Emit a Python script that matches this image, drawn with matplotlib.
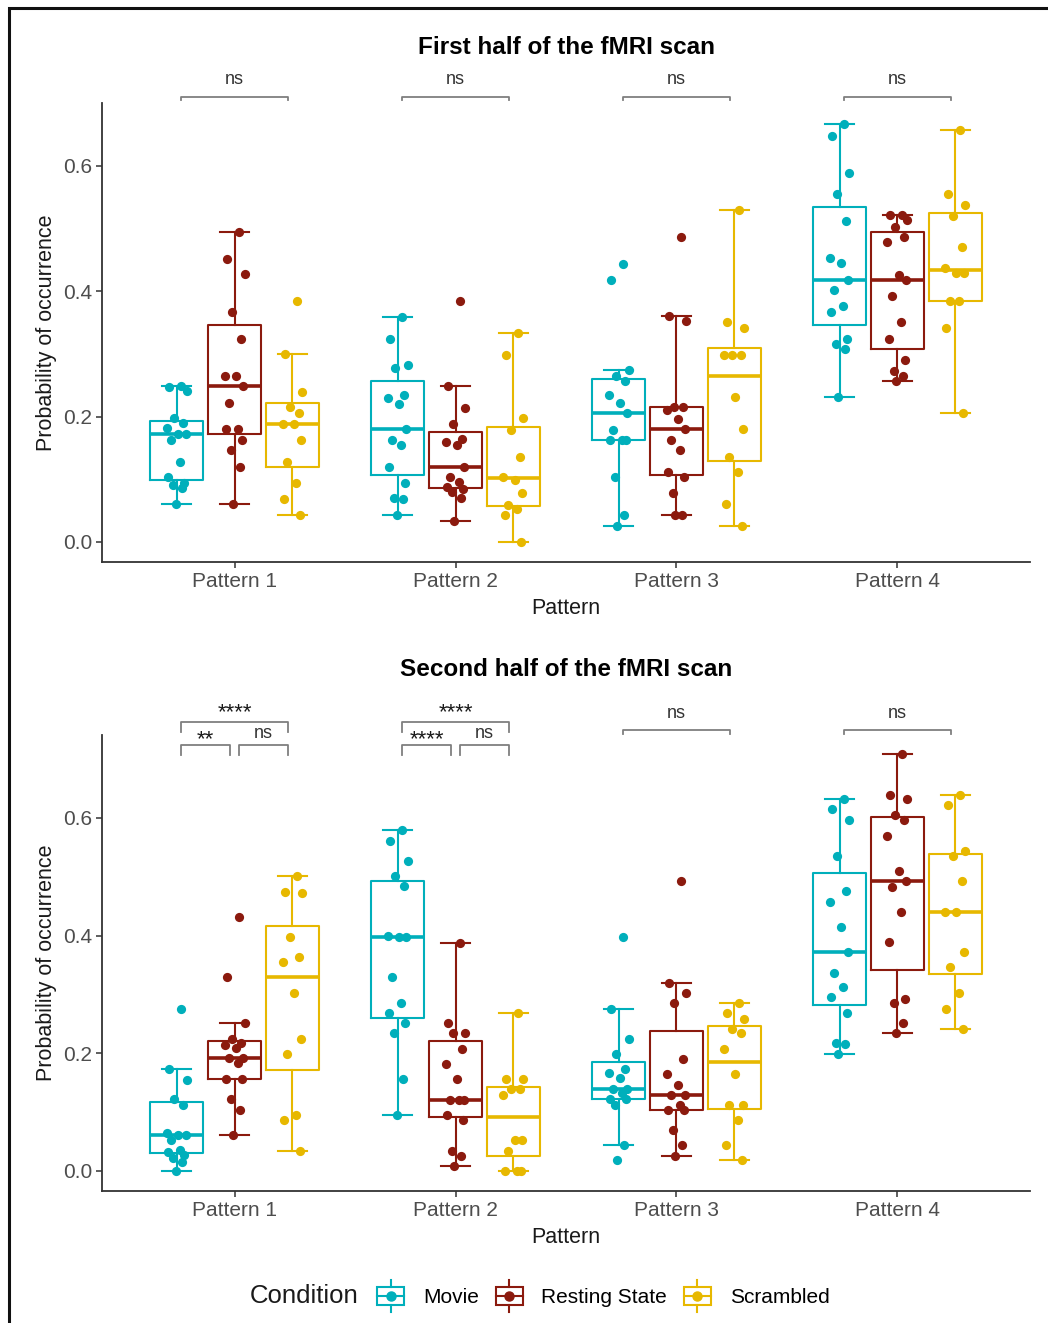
import numpy as np
import matplotlib
matplotlib.use('Agg')
from matplotlib import pyplot as plt
from matplotlib.patches import Rectangle
from matplotlib.lines import Line2D
from matplotlib.legend_handler import HandlerBase

plt.rcParams['font.family'] = ['Liberation Sans', 'DejaVu Sans']

W, H = 1048, 1323

patterns = ['Pattern 1', 'Pattern 2', 'Pattern 3', 'Pattern 4']
conditions = ['Movie', 'Resting State', 'Scrambled']
colors = ['#00AFBB', '#8B1A0E', '#E7B800']

# probability of occurrence per subject, one list per pattern
first_movie = [
    [0.249, 0.247, 0.241, 0.197, 0.190, 0.181, 0.172, 0.172, 0.163, 0.128, 0.104, 0.094, 0.090, 0.086, 0.060],
    [0.358, 0.324, 0.282, 0.277, 0.235, 0.229, 0.220, 0.180, 0.163, 0.155, 0.120, 0.094, 0.070, 0.068, 0.043],
    [0.444, 0.418, 0.274, 0.265, 0.256, 0.235, 0.222, 0.205, 0.179, 0.163, 0.163, 0.163, 0.103, 0.043, 0.026],
    [0.666, 0.648, 0.589, 0.555, 0.512, 0.453, 0.445, 0.418, 0.401, 0.376, 0.367, 0.324, 0.315, 0.307, 0.231],
]
first_rest = [
    [0.495, 0.451, 0.427, 0.367, 0.324, 0.265, 0.265, 0.248, 0.222, 0.180, 0.180, 0.163, 0.146, 0.120, 0.060],
    [0.384, 0.248, 0.213, 0.188, 0.164, 0.160, 0.155, 0.120, 0.104, 0.095, 0.088, 0.085, 0.080, 0.070, 0.034],
    [0.487, 0.360, 0.352, 0.215, 0.215, 0.210, 0.196, 0.180, 0.163, 0.146, 0.112, 0.103, 0.078, 0.043, 0.043],
    [0.521, 0.521, 0.513, 0.503, 0.487, 0.479, 0.426, 0.418, 0.393, 0.351, 0.324, 0.290, 0.273, 0.265, 0.256],
]
first_scrambled = [
    [0.385, 0.299, 0.239, 0.215, 0.205, 0.188, 0.188, 0.163, 0.128, 0.094, 0.069, 0.043],
    [0.333, 0.298, 0.197, 0.179, 0.136, 0.104, 0.099, 0.078, 0.059, 0.052, 0.043, 0.000],
    [0.530, 0.350, 0.341, 0.298, 0.298, 0.298, 0.231, 0.180, 0.136, 0.111, 0.060, 0.026],
    [0.657, 0.555, 0.538, 0.520, 0.470, 0.437, 0.429, 0.429, 0.385, 0.385, 0.341, 0.205],
]

second_movie = [
    [0.276, 0.173, 0.155, 0.122, 0.113, 0.065, 0.061, 0.061, 0.053, 0.036, 0.033, 0.027, 0.022, 0.015, 0.000],
    [0.580, 0.561, 0.527, 0.501, 0.484, 0.400, 0.397, 0.397, 0.329, 0.285, 0.269, 0.251, 0.234, 0.156, 0.095],
    [0.397, 0.276, 0.224, 0.199, 0.173, 0.166, 0.158, 0.139, 0.139, 0.132, 0.122, 0.122, 0.112, 0.044, 0.018],
    [0.632, 0.615, 0.597, 0.536, 0.476, 0.458, 0.415, 0.372, 0.337, 0.312, 0.295, 0.268, 0.217, 0.216, 0.199],
]
second_rest = [
    [0.431, 0.329, 0.251, 0.224, 0.218, 0.214, 0.209, 0.192, 0.192, 0.183, 0.156, 0.156, 0.122, 0.104, 0.061],
    [0.388, 0.251, 0.234, 0.234, 0.207, 0.181, 0.156, 0.121, 0.121, 0.121, 0.095, 0.087, 0.034, 0.025, 0.009],
    [0.493, 0.320, 0.303, 0.285, 0.190, 0.165, 0.147, 0.130, 0.130, 0.112, 0.104, 0.104, 0.070, 0.044, 0.026],
    [0.709, 0.639, 0.632, 0.605, 0.597, 0.570, 0.510, 0.493, 0.483, 0.441, 0.389, 0.293, 0.285, 0.251, 0.234],
]
second_scrambled = [
    [0.501, 0.475, 0.473, 0.397, 0.364, 0.356, 0.302, 0.224, 0.198, 0.095, 0.087, 0.034],
    [0.268, 0.156, 0.156, 0.139, 0.139, 0.130, 0.052, 0.052, 0.034, 0.000, 0.000, 0.000],
    [0.285, 0.269, 0.259, 0.242, 0.234, 0.207, 0.165, 0.112, 0.112, 0.087, 0.044, 0.018],
    [0.639, 0.622, 0.544, 0.536, 0.493, 0.441, 0.441, 0.372, 0.346, 0.303, 0.276, 0.241],
]

# pairwise test labels: (pattern, cond a, cond b, label, bracket row)
first_tests = [(0, 0, 2, 'ns', 'single'), (1, 0, 2, 'ns', 'single'),
               (2, 0, 2, 'ns', 'single'), (3, 0, 2, 'ns', 'single')]
second_tests = [(0, 0, 2, '****', 'wide'), (0, 0, 1, '**', 'pair'), (0, 1, 2, 'ns', 'pair'),
                (1, 0, 2, '****', 'wide'), (1, 0, 1, '****', 'pair'), (1, 1, 2, 'ns', 'pair'),
                (2, 0, 2, 'ns', 'single'), (3, 0, 2, 'ns', 'single')]

DODGE = 0.262
BOX_W = 0.24
CAP_W = 0.13
JITTER = [0.02, -0.035, 0.045, -0.01, 0.03, -0.045, 0.005, 0.04,
          -0.025, 0.015, -0.04, 0.035, -0.015, 0.025, -0.005]


def draw_panel(ax, groups, tests, ylim, levels):
    for ci, (series, col) in enumerate(zip(groups, colors)):
        pos = np.arange(1, 5) + (ci - 1) * DODGE
        ax.boxplot(series, positions=pos, widths=BOX_W, whis=1.5, showfliers=False,
                   capwidths=CAP_W, manage_ticks=False,
                   boxprops=dict(color=col, lw=1.5),
                   whiskerprops=dict(color=col, lw=1.5),
                   capprops=dict(color=col, lw=1.5),
                   medianprops=dict(color=col, lw=2.6))
        for p, vals in zip(pos, series):
            xs = p + np.array(JITTER[:len(vals)])
            ax.scatter(xs, vals, s=44, color=col, lw=0, zorder=3)

    # significance brackets; stars sit high in the text box, so they get their own offset
    for pi, a, b, lab, row in tests:
        x0 = pi + 1 + (a - 1) * DODGE + 0.02
        x1 = pi + 1 + (b - 1) * DODGE - 0.02
        y, tip, ty, sy = levels[row]
        ax.plot([x0, x0, x1, x1], [y - tip, y, y, y - tip], color='#7F7F7F',
                lw=1.3, clip_on=False)
        if lab == 'ns':
            ax.text((x0 + x1) / 2, ty, lab, ha='center', va='center',
                    fontsize=13, color='#333333')
        else:
            ax.text((x0 + x1) / 2, sy, lab, ha='center', va='center',
                    fontsize=16, color='#1A1A1A')

    ax.set_xlim(0.4, 4.6)
    ax.set_ylim(*ylim)
    ax.set_xticks(range(1, 5))
    ax.set_xticklabels(patterns)
    ax.set_yticks([0.0, 0.2, 0.4, 0.6])
    ax.set_yticklabels(['0.0', '0.2', '0.4', '0.6'])
    ax.tick_params(labelsize=15, labelcolor='#4D4D4D', color='#333333',
                   length=4, width=1.1, pad=3)
    for s in ['top', 'right']:
        ax.spines[s].set_visible(False)
    for s in ['left', 'bottom']:
        ax.spines[s].set_color('#333333')
        ax.spines[s].set_linewidth(1.3)
    ax.set_xlabel('Pattern', fontsize=15.5, color='#1A1A1A', labelpad=5.5)
    ax.set_ylabel('Probability of occurrence', fontsize=15.5, color='#1A1A1A', labelpad=4.5)


class BoxKey(HandlerBase):
    def create_artists(self, legend, orig_handle, xdescent, ydescent,
                       width, height, fontsize, trans):
        c = orig_handle.get_color()
        cx = width / 2 - xdescent
        cy = height / 2 - ydescent
        bw, bh, wh = 19.5, 12.5, 23.0
        rect = Rectangle((cx - bw / 2, cy - bh / 2), bw, bh, fill=False,
                         ec=c, lw=1.5, transform=trans)
        up = Line2D([cx, cx], [cy + bh / 2, cy + wh / 2], color=c, lw=1.5, transform=trans)
        dn = Line2D([cx, cx], [cy - bh / 2, cy - wh / 2], color=c, lw=1.5, transform=trans)
        med = Line2D([cx - bw / 2, cx + bw / 2], [cy, cy], color=c, lw=1.5, transform=trans)
        dot = Line2D([cx], [cy], marker='o', ms=6.5, color=c, mec=c, ls='none', transform=trans)
        return [rect, up, dn, med, dot]


fig = plt.figure(figsize=(W / 100, H / 100), dpi=100)

ax1 = fig.add_axes([102 / W, 1 - 562 / H, 928 / W, 459 / H])
draw_panel(ax1, [first_movie, first_rest, first_scrambled], first_tests,
           (-0.032, 0.70), {'single': (0.71, 0.006, 0.737, 0.737)})

ax2 = fig.add_axes([102 / W, 1 - 1191 / H, 928 / W, 456 / H])
draw_panel(ax2, [second_movie, second_rest, second_scrambled], second_tests,
           (-0.034, 0.741),
           {'wide': (0.763, 0.017, 0.787, 0.7785), 'pair': (0.724, 0.017, 0.743, 0.733),
            'single': (0.750, 0.008, 0.777, 0.777)})

fig.text(566 / W, 1 - 48 / H, 'First half of the fMRI scan', ha='center', va='center',
         fontsize=17.5, fontweight='bold')
fig.text(566 / W, 1 - 669 / H, 'Second half of the fMRI scan', ha='center', va='center',
         fontsize=17.5, fontweight='bold')

# legend along the bottom
fig.text(250 / W, 1 - 1296 / H, 'Condition', ha='left', va='center', fontsize=18.5,
         color='#1A1A1A')
handles = [Line2D([], [], color=c) for c in colors]
fig.legend(handles, conditions, handler_map={Line2D: BoxKey()}, ncol=3,
           loc='center left', bbox_to_anchor=(373 / W, 1 - 1296 / H),
           frameon=False, fontsize=15, handlelength=1.7, handleheight=1.6,
           handletextpad=0.7, columnspacing=0.6, borderpad=0, borderaxespad=0)

# outer frame
fig.patches.append(Rectangle((9 / W, -0.1), 1.2, 1.1 - 8 / H, fill=False, ec='#111111',
                             lw=2.2, transform=fig.transFigure, figure=fig))

fig.savefig('out.png', dpi=100)
